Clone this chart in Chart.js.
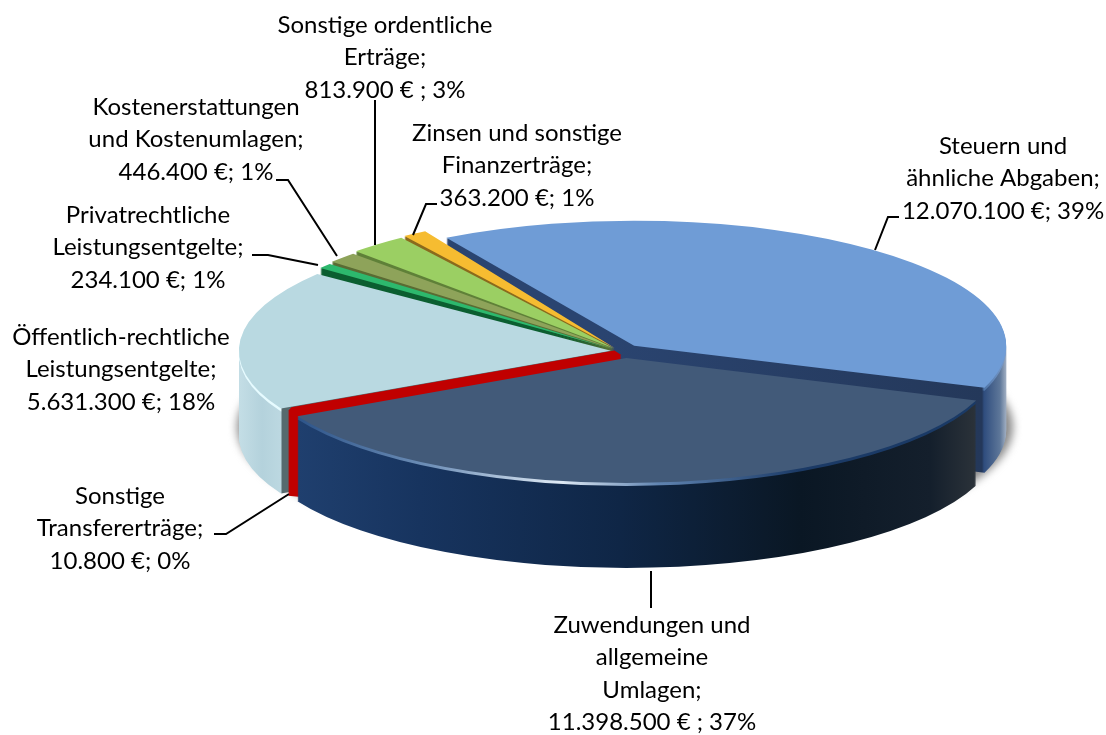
<!DOCTYPE html>
<html lang="de">
<head>
<meta charset="utf-8">
<title>Erträge</title>
<script src="https://cdn.jsdelivr.net/npm/chart.js@4"></script>
<style>
  html, body { margin: 0; background: #fff; }
  canvas { display: block; }
</style>
</head>
<body>
<canvas id="pieChart" width="1106" height="735"></canvas>
<script>
const categories = [
    'Steuern und ähnliche Abgaben',
    'Zuwendungen und allgemeine Umlagen',
    'Sonstige Transfererträge',
    'Öffentlich-rechtliche Leistungsentgelte',
    'Privatrechtliche Leistungsentgelte',
    'Kostenerstattungen und Kostenumlagen',
    'Sonstige ordentliche Erträge',
    'Zinsen und sonstige Finanzerträge'
];
const values = [12070100, 11398500, 10800, 5631300, 234100, 446400, 813900, 363200];
const topColors = ['#6f9cd6', '#425a79', '#c00000', '#b9d9e1', '#2db86d', '#8ea35a', '#9bcf63', '#f6bc31'];

const labelLines = [
    ['Steuern und', 'ähnliche Abgaben;', '12.070.100 €; 39%'],
    ['Zuwendungen und', 'allgemeine', 'Umlagen;', '11.398.500 € ; 37%'],
    ['Sonstige', 'Transfererträge;', '10.800 €; 0%'],
    ['Öffentlich-rechtliche', 'Leistungsentgelte;', '5.631.300 €; 18%'],
    ['Privatrechtliche', 'Leistungsentgelte;', '234.100 €; 1%'],
    ['Kostenerstattungen', 'und Kostenumlagen;', '446.400 €; 1%'],
    ['Sonstige ordentliche', 'Erträge;', '813.900 € ; 3%'],
    ['Zinsen und sonstige', 'Finanzerträge;', '363.200 €; 1%']
];
// x centre and y of first line for each label
const labelPos = [[1003, 146], [652, 625], [120, 496], [121, 337], [148, 215], [196, 107], [385, 25], [517, 133]];
const leaderLines = [
    [[875, 250], [888, 217], [899, 217]],
    [[651, 571], [651, 608]],
    [[289, 494], [226, 534], [214, 534]],
    [[318, 265], [268, 255], [252, 255]],
    [[337, 256], [288, 180], [276, 180]],
    [[375, 245], [375, 100]],
    [[413, 235], [426, 204], [437, 204]]
];

// look of the tilted pie
const CX = 620, CY = 351, RX = 372, DEPTH = 85, RIM = 3;
const sliceRy = [125, 125, 125, 125, 131, 133, 135, 136];
const sliceShiftX = [1, 5, 8, 0, 0, 0, 0, 0];
const sliceOffsets = [72, 72, 40, 32, 32, 32, 32, 32];
const redBorder = 13;
const drawOrder = [0, 7, 6, 5, 4, 3, 2, 1];
const wallStops = [
    [[600, '#2a4470'], [982, '#24385a'], [984, '#2f4d7e'], [1000, '#5e7799'], [1007, '#a9b6c8']],
    [[298, '#1f3f6e'], [420, '#17345f'], [620, '#0f2646'], [800, '#0a1724'], [930, '#141f2c'], [978, '#2c333a']],
    [[280, '#c00000'], [300, '#c00000']],
    [[240, '#c3dde5'], [262, '#b4d2dc'], [281, '#bcd8e1'], [282, '#566a6e'], [640, '#566a6e']],
    [[310, '#0b5e30'], [620, '#0b5e30']],
    [[330, '#5a6b33'], [620, '#5a6b33']],
    [[350, '#5f8038'], [620, '#5f8038']],
    [[410, '#8a6a1c'], [620, '#8a6a1c']]
];
const rimStops = [
    [[600, '#2a4470'], [982, '#24385a'], [984, '#4f75a8'], [1007, '#7d9fce']],
    [[298, '#2d5489'], [430, '#6f90b8'], [560, '#dfeaf5'], [660, '#5f83b0'], [800, '#1b3a66'], [978, '#1a3a66']],
    [[280, '#c00000'], [300, '#c00000']],
    [[240, '#e6fbff'], [281, '#e6fbff'], [282, '#566a6e'], [640, '#566a6e']],
    [[310, '#0b5e30'], [620, '#0b5e30']],
    [[330, '#5a6b33'], [620, '#5a6b33']],
    [[350, '#5f8038'], [620, '#5f8038']],
    [[410, '#8a6a1c'], [620, '#8a6a1c']]
];

function makeGradient(ctx, stops, localX) {
    const x0 = stops[0][0], x1 = stops[stops.length - 1][0];
    const g = ctx.createLinearGradient(localX(x0), 0, localX(x1), 0);
    stops.forEach(s => g.addColorStop((s[0] - x0) / (x1 - x0), s[1]));
    return g;
}

const tiltedPie = {
    id: 'tiltedPie',
    beforeDatasetsDraw(chart) {
        const ctx = chart.ctx;
        const arcs = chart.getDatasetMeta(0).data;
        const base = arcs[0].outerRadius;
        const sx = RX / base;

        // ground shadow
        ctx.save();
        ctx.filter = 'blur(4px)';
        ctx.fillStyle = '#8a8a8a';
        ctx.beginPath();
        ctx.ellipse(CX + 5, 427, 388, 125, 0, 0, Math.PI * 2);
        ctx.fill();
        ctx.restore();

        drawOrder.forEach(i => {
            const arc = arcs[i];
            const opts = arc.options;
            const sy = sliceRy[i] / base;
            const fix = 1 - Math.sin(Math.min(Math.PI, arc.circumference));
            const shrink = i === 2 ? redBorder / 2 : 0;
            const half = (arc.startAngle + arc.endAngle) / 2;
            // arc.draw shifts by offset / 4, keep the gradient in page x
            const tx = Math.cos(half) * opts.offset / 4;
            const localX = x => (x - CX - sliceShiftX[i]) / sx + arc.x - tx;
            arc.outerRadius = base - (opts.offset / 4) * fix - shrink;
            const wall = makeGradient(ctx, wallStops[i], localX);
            const rim = makeGradient(ctx, rimStops[i], localX);
            for (let d = DEPTH; d >= 0; d--) {
                const fill = d === 0 ? topColors[i] : (d <= RIM ? rim : wall);
                arc.options = Object.assign({}, opts, {
                    backgroundColor: fill,
                    borderColor: fill
                });
                ctx.save();
                ctx.translate(CX + sliceShiftX[i], CY + d);
                ctx.scale(sx, sy);
                ctx.translate(-arc.x, -arc.y);
                arc.draw(ctx);
                ctx.restore();
            }
            arc.options = opts;
            arc.outerRadius = base;
        });
        return false;
    },
    afterDraw(chart) {
        const ctx = chart.ctx;
        ctx.save();
        ctx.strokeStyle = '#000';
        ctx.lineWidth = 2;
        leaderLines.forEach(pts => {
            ctx.beginPath();
            pts.forEach((p, n) => n ? ctx.lineTo(p[0], p[1]) : ctx.moveTo(p[0], p[1]));
            ctx.stroke();
        });
        ctx.fillStyle = '#000';
        ctx.font = '24px Lato';
        ctx.textAlign = 'center';
        ctx.textBaseline = 'middle';
        labelLines.forEach((lines, i) => {
            lines.forEach((t, n) => {
                ctx.fillText(t, labelPos[i][0], labelPos[i][1] + n * 32.5);
            });
        });
        ctx.restore();
    }
};

new Chart(document.getElementById('pieChart').getContext('2d'), {
    type: 'pie',
    data: {
        labels: categories,
        datasets: [{
            data: values,
            backgroundColor: topColors,
            borderColor: topColors,
            borderWidth: values.map((v, i) => i === 2 ? redBorder : 0),
            offset: sliceOffsets
        }]
    },
    options: {
        responsive: false,
        animation: false,
        rotation: -30.5,
        layout: { padding: 0 },
        plugins: { legend: { display: false }, tooltip: { enabled: false } }
    },
    plugins: [tiltedPie]
});
</script>
</body>
</html>
